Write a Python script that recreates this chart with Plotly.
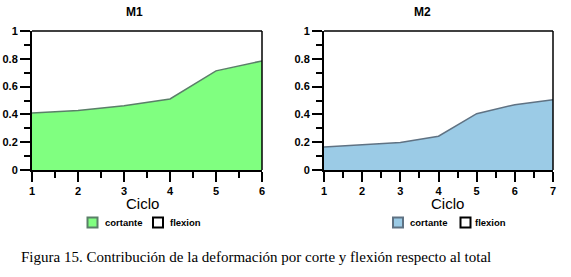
import plotly.graph_objects as go

ciclos_m1 = [1, 2, 3, 4, 5, 6]
cortante_m1 = [0.41, 0.428, 0.462, 0.511, 0.713, 0.785]
ciclos_m2 = [1, 2, 3, 4, 5, 6, 7]
cortante_m2 = [0.165, 0.18, 0.198, 0.243, 0.405, 0.47, 0.506]
flexion_m1 = [1 - v for v in cortante_m1]
flexion_m2 = [1 - v for v in cortante_m2]
titles = ["M1", "M2"]
series_names = ["cortante", "flexion"]
xlabel = "Ciclo"
caption = "Figura 15. Contribución de la deformación por corte y flexión respecto al total"

W, H = 571, 277
def px(x): return x / W
def py(y): return 1 - y / H

fig = go.Figure()

green_fill = "#80FF80"
green_line = "#5A7F68"
blue_fill = "#9BCBE6"
blue_line = "#5F7283"
SANS = "Liberation Sans, Arial"

# M1
fig.add_trace(go.Scatter(x=ciclos_m1, y=cortante_m1, stackgroup="a", mode="lines", name=series_names[0],
                         line=dict(color=green_line, width=1.5), fillcolor=green_fill,
                         xaxis="x", yaxis="y", showlegend=False))
fig.add_trace(go.Scatter(x=ciclos_m1, y=flexion_m1, stackgroup="a", mode="lines", name=series_names[1],
                         line=dict(color="black", width=0), fillcolor="white",
                         xaxis="x", yaxis="y", showlegend=False))
# M2
fig.add_trace(go.Scatter(x=ciclos_m2, y=cortante_m2, stackgroup="b", mode="lines", name=series_names[0],
                         line=dict(color=blue_line, width=1.5), fillcolor=blue_fill,
                         xaxis="x2", yaxis="y2", showlegend=False))
fig.add_trace(go.Scatter(x=ciclos_m2, y=flexion_m2, stackgroup="b", mode="lines", name=series_names[1],
                         line=dict(color="black", width=0), fillcolor="white",
                         xaxis="x2", yaxis="y2", showlegend=False))

tickfont = dict(family=SANS, size=11, color="black", weight="bold")
ydom = [py(170), py(31)]
xdom1 = [px(32), px(262)]
xdom2 = [px(324), px(553)]

def xax(dom, rng, anchor):
    return dict(domain=dom, range=rng, anchor=anchor, dtick=1, tick0=1,
                ticks="outside", ticklen=10, tickwidth=1.5, tickcolor="black",
                showline=True, linecolor="black", linewidth=2, mirror=False,
                showgrid=False, zeroline=False, tickfont=tickfont, automargin=False,
                minor=dict(dtick=0.5, ticks="outside", ticklen=6, tickcolor="black", tickwidth=1.5))

def yax(anchor):
    return dict(domain=ydom, range=[0, 1], anchor=anchor, dtick=0.2, tick0=0,
                ticks="outside", ticklen=10, tickwidth=1.5, tickcolor="black",
                showline=True, linecolor="black", linewidth=2,
                showgrid=False, zeroline=False, tickfont=tickfont, automargin=False,
                minor=dict(dtick=0.1, ticks="outside", ticklen=6, tickcolor="black", tickwidth=1.5))

fig.update_layout(
    width=W, height=H,
    margin=dict(l=0, r=0, t=0, b=0, autoexpand=False),
    paper_bgcolor="white", plot_bgcolor="white",
    xaxis=xax(xdom1, [1, 6], "y"),
    yaxis=yax("x"),
    xaxis2=xax(xdom2, [1, 7], "y2"),
    yaxis2=yax("x2"),
    showlegend=False,
)

shapes = []
# frame top/right
for xd in (xdom1, xdom2):
    shapes.append(dict(type="line", xref="paper", yref="paper", x0=xd[0], x1=xd[1], y0=ydom[1], y1=ydom[1],
                       line=dict(color="black", width=1.5)))
    shapes.append(dict(type="line", xref="paper", yref="paper", x0=xd[1], x1=xd[1], y0=ydom[0], y1=ydom[1],
                       line=dict(color="black", width=1.5)))

ann = []
for t, xc in zip(titles, [134, 422.5]):
    ann.append(dict(text=t, x=px(xc), y=py(12.5), xref="paper", yref="paper", showarrow=False,
                    xanchor="center", yanchor="middle",
                    font=dict(family=SANS, size=12, color="black", weight="bold")))
for xc in [142.5, 447]:
    ann.append(dict(text=xlabel, x=px(xc), y=py(203), xref="paper", yref="paper", showarrow=False,
                    xanchor="center", yanchor="middle", borderpad=0,
                    font=dict(family=SANS, size=15, color="black")))

# legends (boxes + labels)
legend_items = [
    (92.5, 103, green_fill, green_line, series_names[0]),
    (158, 168, "white", "black", series_names[1]),
    (398, 408, blue_fill, blue_line, series_names[0]),
    (465.5, 473, "white", "black", series_names[1]),
]
ly = 222.5
for cx, tx, fc, lc, name in legend_items:
    shapes.append(dict(type="rect", xref="paper", yref="paper",
                       x0=px(cx - 5), x1=px(cx + 5), y0=py(ly + 5), y1=py(ly - 5),
                       fillcolor=fc, line=dict(color=lc, width=2)))
    ann.append(dict(text=name, x=px(tx), y=py(ly), xref="paper", yref="paper", showarrow=False,
                    xanchor="left", yanchor="middle",
                    font=dict(family=SANS, size=9.5, color="black", weight="bold")))

ann.append(dict(text=caption, x=px(256), y=py(257), xref="paper", yref="paper", showarrow=False,
                xanchor="center", yanchor="middle",
                font=dict(family="Liberation Serif, Times New Roman", size=15, color="black")))
fig.update_layout(annotations=ann, shapes=shapes)

# remove the page's default 8px body margin so the figure sits at the window's top-left corner
fig.write_html("out.html", config={"displayModeBar": False},
               post_script="document.body.style.margin='0';")
